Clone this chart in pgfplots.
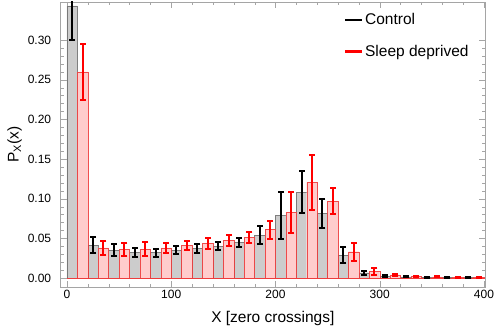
\documentclass[border=0pt]{standalone}
\usepackage{fontspec}
\setmainfont{Liberation Sans}
\usepackage{pgfplots}
\pgfplotsset{compat=1.18}
\usepackage{pgfplotstable}
\usetikzlibrary{calc}

\definecolor{ctrlfill}{RGB}{204,204,204}
\definecolor{ctrledge}{RGB}{100,100,100}
\definecolor{sdfill}{RGB}{255,204,204}
\definecolor{sdedge}{RGB}{238,60,60}
\definecolor{framegray}{RGB}{165,165,165}

% control: bins [0,10], [20,30], ...
\pgfplotstableread{
x   y
5   0.343
25  0.0416
45  0.0353
65  0.032
85  0.032
105 0.035
125 0.0374
145 0.040
165 0.045
185 0.0538
205 0.0786
225 0.108
245 0.0816
265 0.029
285 0.0067
305 0.0025
325 0.0015
345 0.0010
365 0.0007
385 0.0005
}\control

% sleep deprived: bins [10,20], [30,40], ...
\pgfplotstableread{
x   y
15  0.260
35  0.038
55  0.036
75  0.0366
95  0.038
115 0.041
135 0.0437
155 0.0475
175 0.0513
195 0.061
215 0.0828
235 0.1207
255 0.097
275 0.0332
295 0.0088
315 0.0035
335 0.0020
355 0.0015
375 0.0010
395 0.0007
}\sleepdep

% error bar ends (lower, upper), one bin after another, nan breaks the line
\pgfplotstableread{
x   y
5   0.300
5   0.386
5   nan
25  0.0316
25  0.0516
25  nan
45  0.0279
45  0.0427
45  nan
65  0.026
65  0.038
65  nan
85  0.027
85  0.037
85  nan
105 0.030
105 0.040
105 nan
125 0.0314
125 0.0434
125 nan
145 0.035
145 0.045
145 nan
165 0.039
165 0.051
165 nan
185 0.0423
185 0.0653
185 nan
205 0.0486
205 0.1086
205 nan
225 0.0815
225 0.1345
225 nan
245 0.0636
245 0.0996
245 nan
265 0.0193
265 0.0387
265 nan
285 0.0040
285 0.0094
285 nan
305 0.0015
305 0.0035
305 nan
325 0.0007
325 0.0023
325 nan
345 0.0005
345 0.0015
345 nan
365 0.0003
365 0.0011
365 nan
385 0.0002
385 0.0008
}\controlerr

\pgfplotstableread{
x   y
15  0.225
15  0.295
15  nan
35  0.029
35  0.047
35  nan
55  0.028
55  0.044
55  nan
75  0.0281
75  0.0451
75  nan
95  0.032
95  0.044
95  nan
115 0.035
115 0.047
115 nan
135 0.0367
135 0.0507
135 nan
155 0.0402
155 0.0548
155 nan
175 0.0441
175 0.0585
175 nan
195 0.0496
195 0.0724
195 nan
215 0.0572
215 0.1084
215 nan
235 0.0862
235 0.1552
235 nan
255 0.081
255 0.113
255 nan
275 0.0218
275 0.0446
275 nan
295 0.0044
295 0.0132
295 nan
315 0.0020
315 0.0050
315 nan
335 0.0010
335 0.0030
335 nan
355 0.0008
355 0.0022
355 nan
375 0.0005
375 0.0015
375 nan
395 0.0003
395 0.0011
}\sleepdeperr

\begin{document}
\begin{tikzpicture}
\begin{axis}[
    name=ax,
    scale only axis,
    width=424.3pt, height=285pt,
    xmin=-6, xmax=401,
    ymin=-0.0113, ymax=0.348,
    xtick={0,100,...,400},
    ytick={0,0.05,...,0.30},
    minor x tick num=4,
    minor y tick num=4,
    tick align=inside,
    major tick length=6pt,
    minor tick length=3.5pt,
    axis line style={draw=framegray},
    tick style={draw=framegray},
    /pgf/number format/assume math mode=true,
    yticklabel style={/pgf/number format/fixed, /pgf/number format/fixed zerofill,
        /pgf/number format/precision=2, xshift=-6pt},
    scaled y ticks=false,
    tick label style={font=\fontsize{12}{14}\selectfont},
    xlabel={X [zero crossings]},
    ylabel={P\textsubscript{X}(x)},
    every axis x label/.style={at={(rel axis cs:0.5,0)}, yshift=-31pt, anchor=center,
        font=\fontsize{15.5}{18}\selectfont},
    every axis y label/.style={at={(rel axis cs:0,0.5)}, xshift=-46pt, rotate=90, anchor=center,
        font=\fontsize{15.5}{18}\selectfont},
    legend style={at={(rel axis cs:0.66,0.975)}, anchor=north west, draw=none, fill=none,
        font=\fontsize{15.5}{18}\selectfont, row sep=15pt},
    legend cell align=left,
    unbounded coords=jump,
]
% bars
\addplot[ybar, bar width=10, bar shift=0pt, fill=ctrlfill, draw=ctrledge, draw opacity=0.8,
    forget plot] table[x=x, y=y] {\control};
\addplot[ybar, bar width=10, bar shift=0pt, fill=sdfill, draw=sdedge, draw opacity=0.9,
    forget plot] table[x=x, y=y] {\sleepdep};
\addplot[sdedge, line width=0.9pt, forget plot] coordinates {(0,0) (400,0)};
% error bars, caps as marks at both ends
\addplot[black, line width=2pt, mark=-, mark size=3pt, forget plot]
    table[x=x, y=y] {\controlerr};
\addplot[red, line width=2pt, mark=-, mark size=3pt, forget plot]
    table[x=x, y=y] {\sleepdeperr};
\addlegendimage{legend image code/.code={\draw[black, line width=2.2pt] (0pt,0pt) -- (17pt,0pt);}}
\addlegendentry{Control}
\addlegendimage{legend image code/.code={\draw[red, line width=2.2pt] (0pt,0pt) -- (17pt,0pt);}}
\addlegendentry{Sleep deprived}
\end{axis}
\pgfresetboundingbox
\path ($(ax.south west)+(-60.7pt,-48pt)$) rectangle ($(ax.north east)+(13pt,2pt)$);
\end{tikzpicture}
\end{document}
